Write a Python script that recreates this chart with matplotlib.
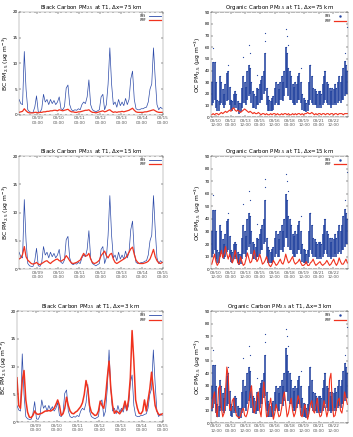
import numpy as np
import matplotlib
matplotlib.use("Agg")
import matplotlib.pyplot as plt
from matplotlib.lines import Line2D

# ---- BC data: 2-hourly, hours since start ----
bc_obs = [3.0, 2.2, 2.0, 12.3, 5.0, 1.0, 0.6, 0.5, 0.5, 1.5,
          3.7, 0.6, 0.5, 1.2, 4.0, 2.5, 3.0, 2.0, 3.0, 2.2,
          2.8, 2.0, 2.5, 3.5, 1.2, 1.0, 1.6, 5.2, 5.8, 2.0,
          1.0, 0.8, 1.0, 0.9, 1.2, 1.0, 2.0, 2.5, 2.2, 3.5,
          6.8, 2.0, 1.0, 0.8, 0.6, 0.8, 1.0, 3.5, 4.0, 1.0,
          2.0, 6.0, 13.0, 6.0, 2.0, 2.5, 1.5, 3.0, 1.8, 2.5,
          1.8, 3.2, 2.0, 3.0, 7.0, 8.5, 3.0, 1.2, 1.0, 1.0,
          1.2, 1.2, 1.4, 1.5, 2.5, 5.0, 6.0, 13.0, 7.0, 2.0,
          1.0, 1.5, 1.2]
bc_wrf75 = [0.5, 0.6, 0.7, 1.2, 0.8, 0.5, 0.4, 0.4, 0.4, 0.5,
            0.5, 0.4, 0.5, 0.5, 0.6, 0.6, 0.7, 0.7, 0.8, 0.8,
            0.9, 0.9, 0.8, 1.0, 0.9, 0.8, 0.9, 1.0, 1.1, 0.8,
            0.6, 0.6, 0.5, 0.5, 0.6, 0.6, 0.7, 0.8, 0.9, 0.9,
            1.0, 0.7, 0.5, 0.5, 0.4, 0.5, 0.6, 0.7, 0.8, 0.6,
            0.7, 0.9, 1.0, 0.7, 0.5, 0.6, 0.5, 0.6, 0.6, 0.7,
            0.6, 0.7, 0.8, 0.9, 1.1, 1.3, 0.9, 0.6, 0.5, 0.5,
            0.5, 0.5, 0.6, 0.6, 0.7, 0.8, 0.9, 1.0, 0.8, 0.6,
            0.5, 0.5, 0.5]
bc_wrf15 = [1.8, 2.0, 2.6, 4.0, 2.2, 1.6, 1.3, 1.0, 0.9, 1.0,
            1.2, 0.9, 0.8, 1.0, 1.2, 1.4, 1.5, 1.2, 1.0, 1.3,
            1.5, 1.7, 1.8, 1.5, 1.4, 1.6, 1.8, 2.4, 2.0, 1.5,
            1.1, 1.0, 1.1, 1.2, 1.4, 1.6, 2.2, 2.8, 2.3, 2.4,
            2.8, 1.8, 1.2, 1.0, 1.1, 1.3, 1.6, 2.4, 2.8, 3.2,
            2.4, 2.0, 2.6, 2.8, 1.8, 1.2, 1.0, 1.2, 1.4, 1.6,
            1.8, 2.0, 2.4, 3.0, 3.6, 3.9, 2.6, 1.6, 1.2, 1.0,
            1.0, 1.0, 1.1, 1.2, 1.4, 1.8, 2.6, 3.5, 2.2, 1.5,
            1.1, 1.0, 1.2]
bc_wrf3 = [8.0, 3.0, 2.5, 7.5, 9.3, 4.0, 1.8, 0.9, 0.8, 1.2,
           2.0, 1.5, 1.4, 1.5, 1.6, 1.8, 2.0, 2.0, 2.1, 2.0,
           2.2, 2.5, 3.2, 4.0, 3.0, 1.2, 1.5, 2.5, 4.5, 3.0,
           2.0, 1.6, 1.5, 1.8, 2.0, 2.4, 2.8, 3.5, 5.0, 7.5,
           6.0, 3.0, 1.8, 1.5, 1.2, 1.3, 2.0, 3.8, 3.0, 2.5,
           4.5, 8.0, 11.0, 6.0, 3.0, 1.6, 2.0, 1.8, 1.5, 2.0,
           2.5, 3.8, 2.2, 4.0, 8.0, 16.5, 11.0, 4.0, 2.5, 1.6,
           1.5, 2.0, 4.0, 2.0, 4.0, 6.0, 9.0, 6.0, 3.0, 2.0,
           1.4, 1.3, 1.5]
bc_ticks = ["03/09\n00:00", "03/10\n00:00", "03/11\n00:00", "03/12\n00:00",
            "03/13\n00:00", "03/14\n00:00", "03/15\n00:00"]

# ---- OC data: observed range (low/high) per bin, WRF per bin ----
oc_obs_lo = [10, 12, 15, 8, 5, 5, 10, 12, 10, 8,
             10, 14, 15, 10, 6, 5, 8, 10, 8, 5,
             3, 4, 8, 12, 12, 10, 15, 18, 20, 12,
             8, 8, 7, 10, 10, 12, 15, 15, 20, 22,
             10, 5, 5, 5, 5, 6, 10, 12, 10, 10,
             15, 15, 14, 18, 25, 25, 18, 15, 15, 12,
             10, 10, 12, 15, 15, 12, 6, 5, 5, 4,
             5, 10, 15, 12, 10, 10, 10, 8, 8, 10,
             8, 10, 12, 15, 12, 10, 10, 8, 10, 10,
             12, 10, 12, 14, 12, 15, 15, 18, 20, 20]
oc_obs_hi = [30, 47, 47, 30, 15, 14, 35, 30, 24, 20,
             28, 38, 40, 26, 15, 14, 20, 22, 20, 14,
             12, 12, 25, 35, 30, 26, 40, 45, 42, 30,
             22, 20, 18, 25, 24, 28, 32, 35, 40, 55,
             25, 18, 15, 14, 16, 18, 25, 30, 28, 24,
             30, 35, 30, 40, 60, 55, 42, 40, 35, 28,
             26, 30, 28, 35, 38, 30, 20, 16, 15, 12,
             15, 30, 45, 35, 25, 24, 22, 20, 22, 22,
             20, 28, 35, 40, 30, 28, 25, 22, 25, 24,
             28, 25, 30, 35, 30, 35, 42, 48, 45, 40]
oc_spike_bin = [1, 12, 23, 27, 28, 33, 39, 39, 54, 55, 56, 65, 72, 82, 97, 99]
oc_spike_val = [59, 45, 52, 62, 55, 36, 72, 65, 76, 70, 62, 42, 45, 40, 55, 77]
oc_wrf75 = [2, 3, 2, 3, 3, 2, 3, 4, 3, 4,
            5, 4, 5, 6, 5, 7, 8, 6, 5, 6,
            5, 4, 5, 6, 7, 6, 5, 4, 5, 4,
            3, 4, 3, 3, 4, 3, 2, 3, 3, 2,
            3, 2, 2, 3, 2, 3, 3, 2, 3, 2,
            2, 3, 2, 3, 3, 2, 3, 2, 2, 3,
            2, 3, 2, 3, 3, 2, 3, 2, 3, 3,
            4, 3, 3, 4, 3, 2, 3, 2, 3, 3,
            2, 3, 3, 2, 3, 3, 2, 3, 3, 2,
            3, 3, 2, 3, 3, 3, 2, 3, 3, 3]
oc_wrf15 = [4, 8, 12, 6, 3, 5, 10, 15, 9, 12,
            18, 12, 8, 12, 9, 5, 8, 15, 10, 5,
            4, 10, 6, 3, 4, 8, 13, 9, 5, 6,
            10, 15, 10, 6, 8, 12, 8, 4, 5, 7,
            10, 6, 3, 2, 4, 7, 5, 3, 4, 6,
            8, 5, 4, 7, 12, 8, 5, 6, 8, 10,
            6, 4, 5, 6, 8, 5, 3, 3, 4, 6,
            3, 3, 5, 6, 8, 5, 3, 4, 5, 6,
            4, 3, 4, 5, 7, 5, 3, 4, 6, 8,
            5, 3, 5, 9, 6, 4, 4, 6, 8, 5]
oc_wrf3 = [12, 20, 25, 10, 5, 28, 30, 12, 5, 8,
           25, 45, 38, 12, 10, 18, 20, 12, 6, 5,
           4, 6, 10, 12, 6, 5, 8, 15, 25, 30,
           15, 8, 12, 22, 25, 10, 5, 20, 33, 18,
           5, 6, 14, 20, 10, 3, 8, 15, 10, 5,
           6, 12, 20, 25, 15, 5, 8, 15, 20, 10,
           5, 8, 15, 22, 18, 6, 5, 10, 15, 8,
           3, 8, 15, 18, 10, 8, 14, 20, 10, 5,
           6, 12, 18, 12, 5, 10, 35, 40, 15, 5,
           6, 12, 18, 20, 10, 8, 15, 25, 20, 15]
oc_ticks = ["03/10\n12:00", "03/12\n00:00", "03/13\n12:00", "03/15\n00:00",
            "03/16\n12:00", "03/18\n00:00", "03/19\n12:00", "03/21\n00:00",
            "03/22\n12:00"]

resolutions = ["75", "15", "3"]

bc_hours = np.arange(len(bc_obs)) * 2.0
oc_days = (np.arange(len(oc_obs_lo)) + 0.5) * 0.14

BLUE = "#2c4aa8"
OCBLUE = "#2444a0"
RED = "#f0321e"

fig = plt.figure(figsize=(3.53, 4.37), dpi=100)

left_pos = [[0.054, 0.737, 0.408, 0.236],
            [0.054, 0.384, 0.408, 0.259],
            [0.048, 0.034, 0.414, 0.254]]
right_pos = [[0.598, 0.732, 0.388, 0.240],
             [0.598, 0.384, 0.388, 0.259],
             [0.598, 0.032, 0.388, 0.256]]


def style(ax):
    ax.tick_params(direction="in", length=1.5, width=0.3, labelsize=3,
                   top=True, right=True, pad=1)
    ax.tick_params(which="minor", direction="in", length=0.8, width=0.3,
                   top=True, right=True)
    for s in ax.spines.values():
        s.set_linewidth(0.3)
        s.set_color("#777777")


bc_wrf = [bc_wrf75, bc_wrf15, bc_wrf3]
oc_wrf = [oc_wrf75, oc_wrf15, oc_wrf3]

for k, res in enumerate(resolutions):
    # black carbon
    ax = fig.add_axes(left_pos[k])
    ax.plot(bc_hours, bc_obs, color=BLUE, lw=0.5)
    ax.plot(bc_hours, bc_wrf[k], color=RED, lw=0.9 if k < 2 else 1.1)
    ax.set_xlim(0, 165)
    ax.set_ylim(0, 20)
    ax.set_yticks([0, 5, 10, 15, 20])
    ax.set_xticks(21 + 24 * np.arange(len(bc_ticks)))
    ax.set_xticklabels(bc_ticks, fontsize=2.2, color="#555555")
    ax.set_xticks(np.arange(0, 166, 6), minor=True)
    ax.set_title("Black Carbon PM$_{2.5}$ at T1, \u0394x=%s km" % res,
                 fontsize=4.0, pad=2)
    ax.set_ylabel("BC PM$_{2.5}$ (\u03bcg m$^{-3}$)", fontsize=4.3, labelpad=1)
    style(ax)
    ax.legend(handles=[Line2D([], [], color=BLUE, lw=0.6, label="OBS"),
                       Line2D([], [], color=RED, lw=0.9, label="WRF")],
              loc="upper right", fontsize=2.2, frameon=False, markerfirst=False,
              handlelength=4, borderaxespad=0.3, labelspacing=0.1)

    # organic carbon
    ax = fig.add_axes(right_pos[k])
    ax.vlines(oc_days, oc_obs_lo, oc_obs_hi, color=OCBLUE, lw=1.15)
    ax.scatter(oc_days, oc_obs_hi, s=0.8, color=OCBLUE, lw=0)
    ax.scatter(oc_days[oc_spike_bin], oc_spike_val, s=0.8, color=OCBLUE, lw=0)
    ax.plot(oc_days, oc_wrf[k], color=RED, lw=0.8)
    ax.set_xlim(0, 14)
    ax.set_ylim(0, 90)
    ax.set_yticks(np.arange(0, 91, 10))
    ax.set_xticks(0.5 + 1.5 * np.arange(len(oc_ticks)))
    ax.set_xticklabels(oc_ticks, fontsize=2.2, color="#555555")
    ax.set_xticks(np.arange(0, 14.01, 0.25), minor=True)
    ax.set_title("Organic Carbon PM$_{2.5}$ at T1, \u0394x=%s km" % res,
                 fontsize=4.0, pad=2)
    ax.set_ylabel("OC PM$_{2.5}$ (\u03bcg m$^{-3}$)", fontsize=4.3, labelpad=1)
    style(ax)
    ax.legend(handles=[Line2D([], [], color=OCBLUE, marker=".", ms=1.5, lw=0,
                              label="OBS"),
                       Line2D([], [], color=RED, lw=0.9, label="WRF")],
              loc="upper right", fontsize=2.2, frameon=False, markerfirst=False,
              handlelength=4, borderaxespad=0.3, labelspacing=0.1)

fig.savefig("out.png", dpi=100)
